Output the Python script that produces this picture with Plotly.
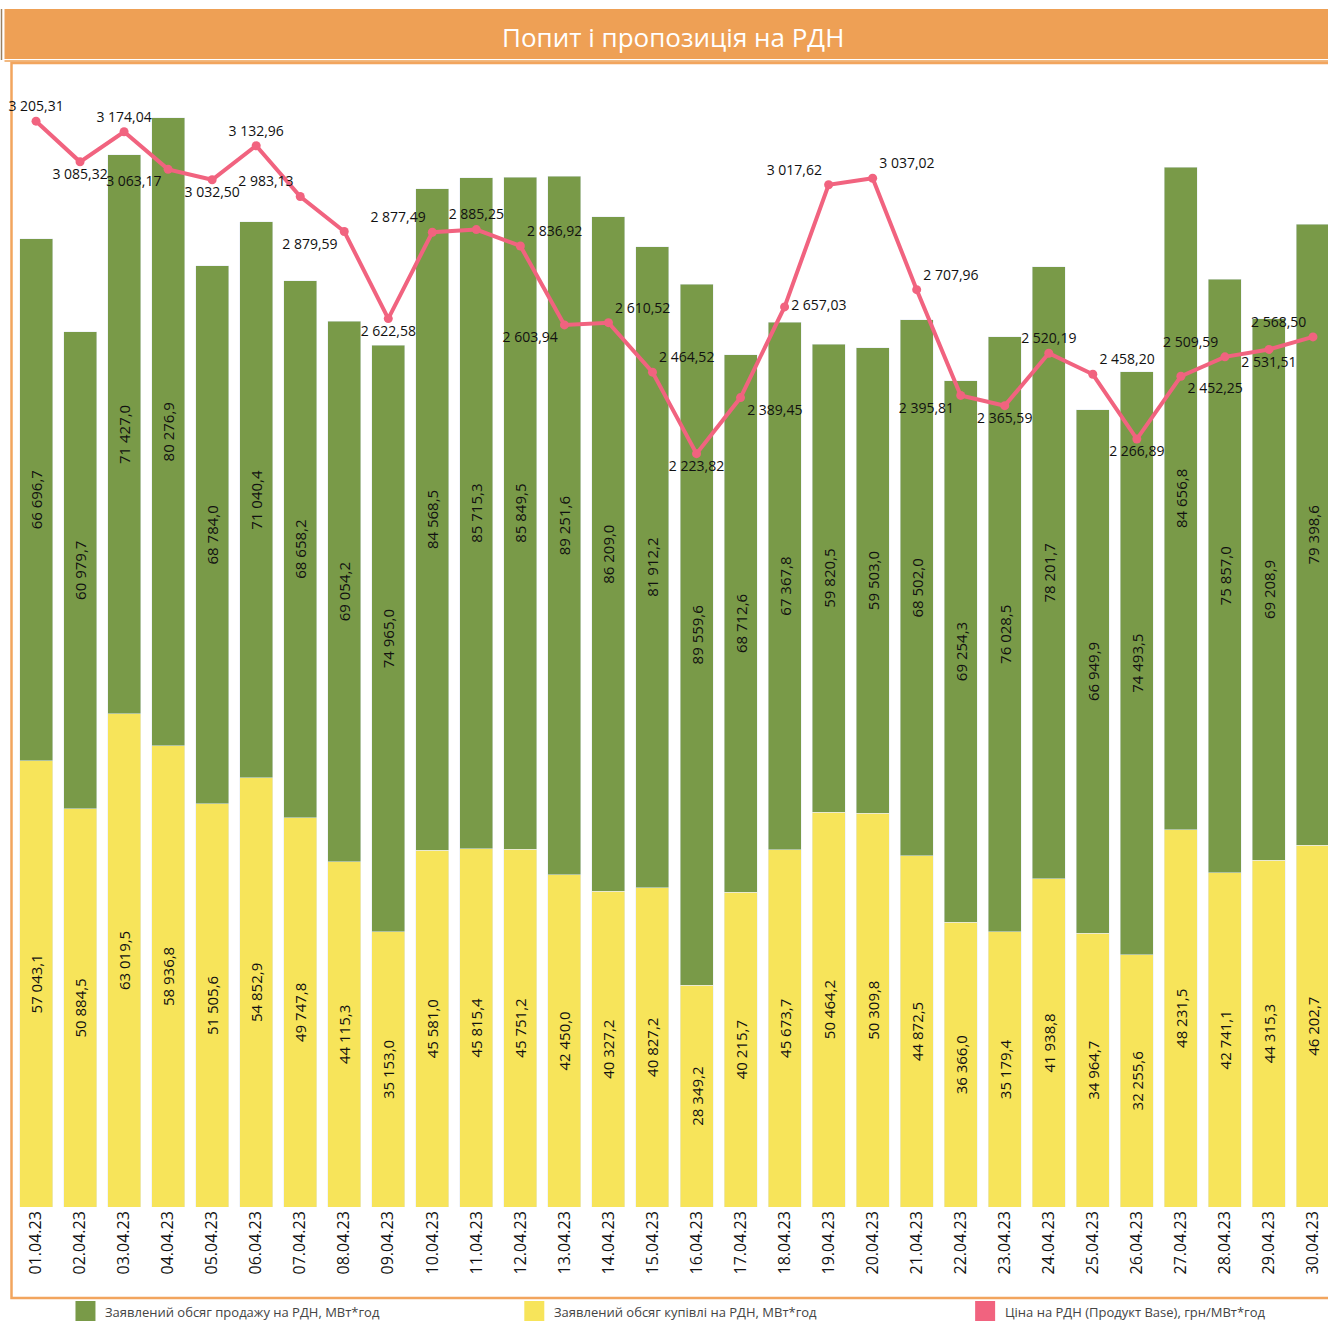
import plotly.graph_objects as go

dates = ["01.04.23", "02.04.23", "03.04.23", "04.04.23", "05.04.23", "06.04.23", "07.04.23",
         "08.04.23", "09.04.23", "10.04.23", "11.04.23", "12.04.23", "13.04.23", "14.04.23",
         "15.04.23", "16.04.23", "17.04.23", "18.04.23", "19.04.23", "20.04.23", "21.04.23",
         "22.04.23", "23.04.23", "24.04.23", "25.04.23", "26.04.23", "27.04.23", "28.04.23",
         "29.04.23", "30.04.23"]

sale = [66696.7, 60979.7, 71427.0, 80276.9, 68784.0, 71040.4, 68658.2, 69054.2, 74965.0, 84568.5,
        85715.3, 85849.5, 89251.6, 86209.0, 81912.2, 89559.6, 68712.6, 67367.8, 59820.5, 59503.0,
        68502.0, 69254.3, 76028.5, 78201.7, 66949.9, 74493.5, 84656.8, 75857.0, 69208.9, 79398.6]

purchase = [57043.1, 50884.5, 63019.5, 58936.8, 51505.6, 54852.9, 49747.8, 44115.3, 35153.0, 45581.0,
            45815.4, 45751.2, 42450.0, 40327.2, 40827.2, 28349.2, 40215.7, 45673.7, 50464.2, 50309.8,
            44872.5, 36366.0, 35179.4, 41938.8, 34964.7, 32255.6, 48231.5, 42741.1, 44315.3, 46202.7]

price = [3205.31, 3085.32, 3174.04, 3063.17, 3032.50, 3132.96, 2983.13, 2879.59, 2622.58, 2877.49,
         2885.25, 2836.92, 2603.94, 2610.52, 2464.52, 2223.82, 2389.45, 2657.03, 3017.62, 3037.02,
         2707.96, 2395.81, 2365.59, 2520.19, 2458.20, 2266.89, 2452.25, 2509.59, 2531.51, 2568.50]

price_label_pos = ["top center", "bottom center", "top center", "bottom left", "bottom center",
                   "top center", "top left", "bottom left", "bottom center", "top left",
                   "top center", "top right", "bottom left", "top right", "top right",
                   "bottom center", "bottom right", "middle right", "top left", "top right",
                   "top right", "bottom left", "bottom center", "top center", "top right",
                   "bottom center", "bottom right", "top left", "bottom center", "top left"]

legend_names = ["Заявлений обсяг продажу на РДН, МВт*год",
                "Заявлений обсяг купівлі на РДН, МВт*год",
                "Ціна на РДН (Продукт Base), грн/МВт*год"]
title_text = "Попит і пропозиція на РДН"

GREEN = "#799A48"
YELLOW = "#F7E45A"
PINK = "#F1637F"
ORANGE = "#EEA055"
FONT = "Open Sans"

FIG_W, FIG_H = 1328, 1321
ML, MR, MT, MB = 13.5, 0, 70, 114
PW = FIG_W - ML - MR
PH = FIG_H - MT - MB
BOTTOM = FIG_H - MB


def xp(px):
    return (px - ML) / PW


def yp(py):
    return (BOTTOM - py) / PH


fig = go.Figure()

fig.add_trace(go.Bar(
    x=dates, y=purchase, name=legend_names[1], marker_color=YELLOW,
    texttemplate="%{y:,.1f}", textposition="inside", insidetextanchor="middle",
    textangle=-90, textfont=dict(family=FONT, size=15, color="#111111"),
    showlegend=False, cliponaxis=True,
))
fig.add_trace(go.Bar(
    x=dates, y=sale, name=legend_names[0], marker_color=GREEN,
    texttemplate="%{y:,.1f}", textposition="inside", insidetextanchor="middle",
    textangle=-90, textfont=dict(family=FONT, size=15, color="#111111"),
    showlegend=False, cliponaxis=True,
))
fig.add_trace(go.Scatter(
    x=dates, y=price, name=legend_names[2], yaxis="y2",
    mode="lines+markers+text",
    line=dict(color=PINK, width=4), marker=dict(color=PINK, size=9),
    texttemplate="%{y:,.2f}", textposition=price_label_pos,
    textfont=dict(family=FONT, size=14, color="#111111"),
    cliponaxis=False, showlegend=False,
))

shapes = []
# title band
shapes.append(dict(type="rect", xref="paper", yref="paper", x0=xp(4), x1=xp(1340), y0=yp(59), y1=yp(9),
                   fillcolor=ORANGE, line=dict(width=0), layer="above"))
shapes.append(dict(type="line", xref="paper", yref="paper", x0=xp(1), x1=xp(1), y0=yp(60), y1=yp(9),
                   line=dict(color="#9a8060", width=1.5)))
shapes.append(dict(type="line", xref="paper", yref="paper", x0=xp(4), x1=xp(1340), y0=yp(61), y1=yp(61),
                   line=dict(color=ORANGE, width=1.5)))
# frame
shapes.append(dict(type="rect", xref="paper", yref="paper", x0=xp(11), x1=xp(1345), y0=yp(1298), y1=yp(63),
                   line=dict(color="#F2A55E", width=2.5), fillcolor="rgba(0,0,0,0)", layer="below"))
# legend squares
leg_sq_x = [75, 524, 975]
leg_cols = [GREEN, YELLOW, PINK]
for sx, c in zip(leg_sq_x, leg_cols):
    shapes.append(dict(type="rect", xref="paper", yref="paper", x0=xp(sx), x1=xp(sx + 20),
                       y0=yp(1321), y1=yp(1301), fillcolor=c, line=dict(width=0)))

annotations = [dict(text=title_text, xref="paper", yref="paper", x=xp(673), y=yp(37),
                    showarrow=False, font=dict(family=FONT, size=26, color="white"),
                    xanchor="center", yanchor="middle")]
for sx, name in zip(leg_sq_x, legend_names):
    annotations.append(dict(text=name, xref="paper", yref="paper", x=xp(sx + 28), y=yp(1312),
                            showarrow=False, xanchor="left", yanchor="middle",
                            font=dict(family=FONT, size=13, color="#444444")))

fig.update_layout(
    width=FIG_W, height=FIG_H,
    margin=dict(l=ML, r=MR, t=MT, b=MB, pad=0),
    paper_bgcolor="white", plot_bgcolor="white",
    barmode="stack", bargap=0.25,
    separators=", ",
    font=dict(family=FONT, color="#111111"),
    xaxis=dict(type="category", range=[-0.5, -0.5 + (FIG_W - ML) / 44.05], showgrid=False,
               showline=False, zeroline=False, ticks="", tickangle=-90,
               tickfont=dict(family=FONT, size=16, color="#111111")),
    yaxis=dict(range=[0, PH * 127.8], visible=False, showgrid=False, zeroline=False),
    yaxis2=dict(range=[0, PH * 2.952], overlaying="y", visible=False, showgrid=False, zeroline=False),
    shapes=shapes, annotations=annotations,
)

fig.write_html("out.html", config={"displayModeBar": False},
               post_script="document.body.style.margin='0';document.body.style.overflow='hidden';")
